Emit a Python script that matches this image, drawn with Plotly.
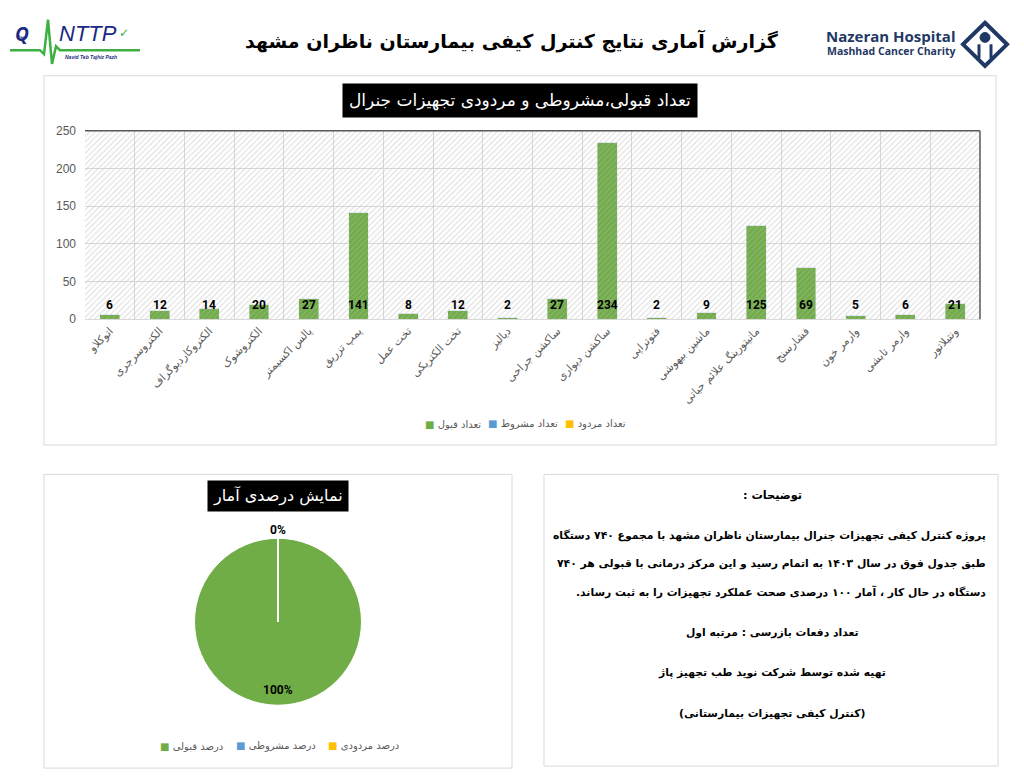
import plotly.graph_objects as go

W, H = 1024, 779


def fx(p):
    return p / W


def fy(p):
    return 1 - p / H


def rtl(s):
    return "\u202b" + s + "\u202c"


# ---------------- data ----------------
categories = [
    "اتوکلاو", "الکتروسرجری", "الکتروکاردیوگراف", "الکتروشوک", "پالس اکسیمتر",
    "پمپ تزریق", "تخت عمل", "تخت الکتریکی", "دیالیز", "ساکشن جراحی",
    "ساکشن دیواری", "فتوتراپی", "ماشین بیهوشی", "مانیتورینگ علائم حیاتی",
    "فشارسنج", "وارمر خون", "وارمر تابشی", "ونتیلاتور",
]
accepted = [6, 12, 14, 20, 27, 141, 8, 12, 2, 27, 234, 2, 9, 125, 69, 5, 6, 21]
conditional = [0, 0, 0, 0, 0, 0, 0, 0, 0, 0, 0, 0, 0, 0, 0, 0, 0, 0]
rejected = [0, 0, 0, 0, 0, 0, 0, 0, 0, 0, 0, 0, 0, 0, 0, 0, 0, 0]
series_names = ["تعداد قبول", "تعداد مشروط", "تعداد مردود"]
series_colors = ["#70AD47", "#5B9BD5", "#FFC000"]
y_ticks = [0, 50, 100, 150, 200, 250]
pie_labels = ["درصد قبولی", "درصد مشروطی", "درصد مردودی"]

page_title = "گزارش آماری نتایج کنترل کیفی بیمارستان ناظران مشهد"
bar_title = "تعداد قبولی،مشروطی و مردودی تجهیزات جنرال"
pie_title = "نمایش درصدی آمار"
notes_head = "توضیحات :"
notes_lines = [
    "پروژه کنترل کیفی تجهیزات جنرال بیمارستان ناظران مشهد با مجموع ۷۴۰ دستگاه",
    "طبق جدول فوق در سال ۱۴۰۳ به اتمام رسید و این مرکز درمانی با قبولی هر ۷۴۰",
    "دستگاه در حال کار ، آمار ۱۰۰ درصدی صحت عملکرد تجهیزات را به ثبت رساند.",
]
notes_footer = [
    "تعداد دفعات بازرسی : مرتبه اول",
    "تهیه شده توسط شرکت نوید طب تجهیز پاژ",
    "(کنترل کیفی تجهیزات بیمارستانی)",
]

FA = "DejaVu Sans"
NARROW = "Liberation Sans Narrow, Arial Narrow, Roboto, sans-serif"
n = len(categories)
idx = list(range(n))
lo, hi = -0.5, n - 0.5

fig = go.Figure()

# hatched plot background
fig.add_trace(go.Scatter(
    x=[lo, hi, hi, lo, lo], y=[y_ticks[0], y_ticks[0], y_ticks[-1], y_ticks[-1], y_ticks[0]],
    fill="toself", mode="lines", line=dict(width=0), fillcolor="rgba(0,0,0,0)",
    fillpattern=dict(shape="/", fgcolor="#b8b8b8", bgcolor="rgba(0,0,0,0)", size=4, solidity=0.25),
    hoverinfo="skip", showlegend=False,
))

for name, vals, col in zip(series_names, [accepted, conditional, rejected], series_colors):
    fig.add_trace(go.Bar(x=idx, y=vals, name=name, marker_color=col, width=0.4, showlegend=False))

# pie
pie_values = [sum(accepted), sum(conditional), sum(rejected)]
total = sum(pie_values)
pcts = [round(v / total * 100) for v in pie_values]
fig.add_trace(go.Pie(
    labels=pie_labels, values=pie_values, sort=False, direction="clockwise", rotation=0,
    marker=dict(colors=series_colors, line=dict(color="white", width=1)),
    textinfo="none", domain=dict(x=[fx(193), fx(363)], y=[fy(711), fy(541)]),
    showlegend=False, hoverinfo="label+percent",
))

annotations = []


def note(x, y, text, size, color="black", family=FA, xanchor="center", yanchor="middle", **kw):
    d = dict(x=fx(x), y=fy(y), xref="paper", yref="paper", text=text, showarrow=False,
             xanchor=xanchor, yanchor=yanchor, font=dict(size=size, color=color, family=family))
    d.update(kw)
    annotations.append(d)


# data labels
for i, v in zip(idx, accepted):
    annotations.append(dict(
        x=i, y=0, xref="x", yref="y", text=f"<b>{v}</b>", showarrow=False,
        xanchor="center", yanchor="bottom", yshift=5,
        font=dict(size=12, color="black", family=NARROW),
    ))

# legends (marker square + label, left-to-right like the reference)
for lx, name, col in zip([423, 486, 563], series_names, series_colors):
    note(lx, 425, f'<span style="color:{col}">■</span> {name}', 10, "#595959", xanchor="left")
for lx, name, col in zip([158, 234, 326], pie_labels, series_colors):
    note(lx, 753, f'<span style="color:{col}">■</span> {name}', 10, "#595959", xanchor="left")

# page title
note(512, 35, rtl("<b>" + page_title + "</b>"), 19)
# right logo text
note(891, 30, "<b>Nazeran Hospital</b>", 15, "#1f3864", "Open Sans")
note(891, 45, "<b>Mashhad Cancer Charity</b>", 10.5, "#1f3864", "Open Sans")
# left logo text
note(22, 27, "<b><i>Q</i></b>", 19, "#1a2a80", "Open Sans")
note(88, 27, "<i>NTTP</i>", 22, "#1a2a80", "Liberation Sans")
note(124, 26, "✓", 12, "#3cb043", "DejaVu Sans")
note(91, 51, "<b><i>Navid Teb Tajhiz Pazh</i></b>", 5, "#1a2a80", "Liberation Sans")

# chart titles (black boxes)
note(520, 95, rtl(bar_title), 17, "white", bgcolor="black", borderpad=6)
note(278, 498, rtl(pie_title), 16, "white", bgcolor="black", borderpad=5)

# pie percentage labels
note(278, 695, f"<b>{pcts[0]}%</b>", 12, family=NARROW)
note(278, 533, f"<b>{pcts[1]}%</b>", 12, family=NARROW)

# notes panel
NS = 10.8
note(772, 497, rtl("<b>" + notes_head + "</b>"), NS + 0.5)
for k, line in enumerate(notes_lines):
    note(988, 538 + 29 * k, rtl("<b>" + line + "</b>"), NS, xanchor="right")
for k, line in enumerate(notes_footer):
    note(772, 637 + 41 * k, rtl("<b>" + line + "</b>"), NS)

# shapes
shapes = []
for (x0, y0, x1, y1) in [(44, 70, 996, 446), (44, 476, 512, 775), (544, 476, 998, 773)]:
    shapes.append(dict(type="rect", xref="paper", yref="paper", x0=fx(x0), x1=fx(x1), y0=fy(y0), y1=fy(y1),
                       line=dict(color="#d9d9d9", width=1), fillcolor="rgba(0,0,0,0)", layer="below"))
# plot border top & right
shapes.append(dict(type="line", xref="x domain", yref="y domain", x0=0, x1=1, y0=1, y1=1,
                   line=dict(color="#595959", width=1.5)))
shapes.append(dict(type="line", xref="x domain", yref="y domain", x0=1, x1=1, y0=0, y1=1,
                   line=dict(color="#595959", width=1.5)))
# pie separator
shapes.append(dict(type="line", xref="paper", yref="paper", x0=fx(278), x1=fx(278), y0=fy(541), y1=fy(626),
                   line=dict(color="white", width=2)))


def ppath(pts, close=False):
    s = "M " + " L ".join(f"{fx(a):.5f},{fy(b):.5f}" for a, b in pts)
    return s + (" Z" if close else "")


# ECG line of left logo
shapes.append(dict(type="path", xref="paper", yref="paper",
                   path=ppath([(10, 44), (40, 44), (44, 48), (48, 13), (52, 58), (56, 40), (60, 44), (140, 44)]),
                   line=dict(color="#3cb043", width=2.5)))
# Q ring
shapes.append(dict(type="circle", xref="paper", yref="paper", x0=fx(18), x1=fx(27), y0=fy(31), y1=fy(22),
                   line=dict(color="#1a2a80", width=1)))
# right icon diamond
shapes.append(dict(type="path", xref="paper", yref="paper",
                   path=ppath([(985, 16), (1007, 38), (985, 60), (963, 38)], close=True),
                   line=dict(color="#1f3864", width=4)))
shapes.append(dict(type="circle", xref="paper", yref="paper", x0=fx(980), x1=fx(990), y0=fy(36), y1=fy(26),
                   fillcolor="#1f3864", line=dict(color="#1f3864", width=1)))
shapes.append(dict(type="path", xref="paper", yref="paper", path=ppath([(979, 38), (979, 52)]),
                   line=dict(color="#1f3864", width=3)))
shapes.append(dict(type="path", xref="paper", yref="paper", path=ppath([(991, 38), (991, 52)]),
                   line=dict(color="#1f3864", width=3)))

fig.update_layout(
    width=W, height=H, margin=dict(l=0, r=0, t=0, b=0),
    paper_bgcolor="white", plot_bgcolor="white",
    barmode="stack", showlegend=False,
    xaxis=dict(domain=[fx(85), fx(980)], range=[lo, hi], tickmode="array", tickvals=idx, ticktext=categories,
               tickangle=-45, tickfont=dict(size=11, color="#595959", family=FA), showgrid=False,
               minor=dict(tickmode="linear", tick0=0.5, dtick=1, showgrid=True, gridcolor="#d9d9d9", gridwidth=1),
               showline=True, linecolor="#d9d9d9", zeroline=False, ticks="", fixedrange=True),
    yaxis=dict(domain=[fy(318), fy(126)], range=[y_ticks[0], y_ticks[-1]], tickmode="array", tickvals=y_ticks,
               tickfont=dict(size=12, color="#595959", family="Liberation Sans"), showgrid=True,
               gridcolor="#d9d9d9", zeroline=False, ticks="", ticklabelstandoff=8, fixedrange=True),
    annotations=annotations, shapes=shapes,
)

fig.write_html("out.html")
